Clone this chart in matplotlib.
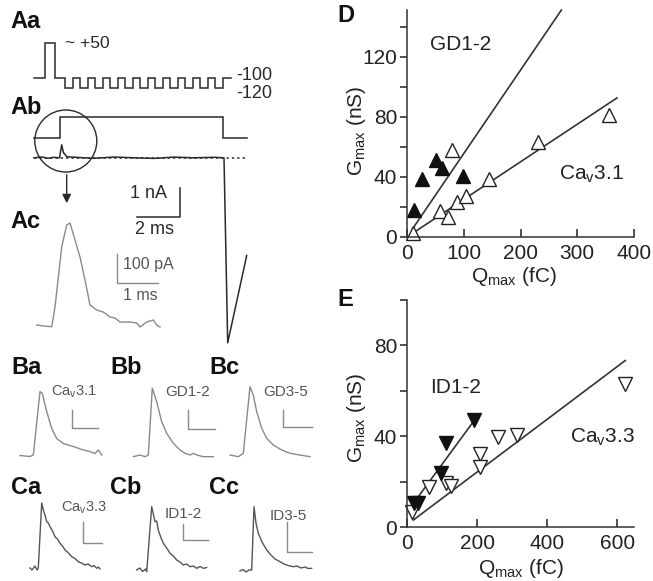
import numpy as np
import matplotlib
matplotlib.use("Agg")
import matplotlib.pyplot as plt
from matplotlib.patches import Circle

plt.rcParams['font.family'] = ['Liberation Sans', 'DejaVu Sans']
plt.rcParams['mathtext.fontset'] = 'custom'
plt.rcParams['mathtext.rm'] = 'Liberation Sans'
plt.rcParams['mathtext.it'] = 'Liberation Sans:italic'

# ---------------- datos panel D (Cav3.1 y GD1-2)
d_q_wt = [10, 58, 73, 79, 88, 104, 145, 231, 356]
d_g_wt = [2.5, 17.5, 13.5, 58, 23, 27, 38.5, 63.5, 81]
d_q_gd = [12, 27, 51, 62, 98]
d_g_gd = [18, 38.5, 51, 46, 40.7]
# ajuste: pendiente, ordenada, x inicial, x final
d_fit_wt = [0.25, 0.0, 10, 370]
d_fit_gd = [0.555, 0.0, 10, 272]

# ---------------- datos panel E (Cav3.3 y ID1-2)
e_q_wt = [13, 63, 112, 125, 209, 209, 261, 313, 623]
e_g_wt = [6.8, 17.8, 19.5, 18, 32.4, 26.6, 39.7, 40.5, 63]
e_q_id = [20, 30, 97, 111, 191]
e_g_id = [10.5, 10.5, 24, 37, 47]
e_fit_wt = [0.116, 1.1, 18, 623]
e_fit_id = [0.21, 6.7, 18, 199]

# ---------------- trazos (unidades de pantalla, relativas al origen de cada trazo)
# protocolo de voltaje Aa (mV) y duraciones de cada segmento
aa_levels = [-100, 50, -100] + [-120, -100] * 10 + [-120, -100]
aa_durs = [11, 10, 10] + [8.3, 6.7] * 10 + [8.3, 7.5]
# comando Ab (0 = reposo, 1 = escalon)
ab_levels = [0, 1, 0]
ab_durs = [26, 163.3, 23.4]
# corriente Ab
ab_t = [0, 8, 14, 20, 25.5, 27.7, 29.5, 33, 45, 60, 80, 100, 120, 140, 160, 180, 190, 193.7, 212.7]
ab_i = [0, 0.8, -0.5, 0.5, 0, 13, 5, 1, 0.3, -0.5, 0.8, 0, -0.6, 0.7, 0, 0.5, 0, -185, -97.7]
# Ac ampliado
ac_t = [0, 6.6, 15, 18.3, 25, 30, 33.3, 38.3, 43.3, 48.3, 53.3, 60, 66.6, 73.3, 78.3,
        83.3, 93.3, 100, 103.3, 110, 116.6, 120, 123.3]
ac_i = [1, 0, -0.7, 19, 79, 101, 103, 86, 69, 46, 21, 16, 14, 9, 8, 4, 4, 3, -1, 4, 6, 1, -1]
# fila B
ba_t = [0, 10, 13.3, 20, 22.3, 26.7, 31.7, 36.7, 43.3, 53.3, 63.3, 70, 75, 78.3, 81.7]
ba_i = [0, -1, 0.5, 64, 62, 44, 27, 17, 12, 9, 5.5, 4, 2, 5.5, 0.5]
bb_t = [0, 6.7, 11.7, 15, 19, 23.4, 28.4, 33.4, 40, 46.7, 51.7, 56.7, 60, 63.4, 70, 80]
bb_i = [-0.7, 1, -0.7, 1, 67.7, 54.3, 34.3, 22.7, 12.7, 6, 2.7, 1, 2.7, 1, -0.7, -0.7]
bc_t = [0, 8.3, 13.3, 20, 23.3, 26.7, 31.7, 36.7, 43.3, 51.7, 60, 70, 80]
bc_i = [1, -0.7, 2.7, 69.3, 61, 44.3, 27.7, 17.7, 11, 6, 2.7, 1, -0.7]
# fila C (mas ruidosa)
ca_t = [0, 2, 5, 7, 8.3, 11.7, 13.3, 15, 16.7, 18.3, 20, 22.5, 25, 27.5, 30, 32.5, 35, 38,
        41.7, 45, 48.3, 51.5, 55, 58, 61.7, 64, 66.7, 68.5, 70]
ca_i = [0, -2, 2, -2, 0, 65, 58, 53, 46.3, 45, 41.3, 37, 31.3, 29, 24.7, 22, 18, 15.5,
        11.3, 9.5, 6.3, 5, 3, 4, 1.3, 2.5, -0.3, 1, -1]
cb_t = [0, 3, 6, 9, 10, 15, 16.6, 18.3, 20, 21.6, 24, 26.6, 30, 33.3, 36.6, 40, 43.3, 46.6,
        50, 53.3, 56.6, 60, 63.3, 66.6, 70]
cb_i = [0, 2, -1.5, 1, -1.7, 63.3, 56, 48.3, 49, 40, 33, 26.7, 22, 16.7, 14, 10, 8, 5,
        6, 3.3, 4, 1.7, 3.5, 1.7, 2.5]
cc_t = [0, 3, 6, 9, 11.7, 14, 16, 18.3, 22, 26.7, 30, 35, 40, 44, 48, 53.3, 57, 61, 65, 68, 71.7]
cc_i = [0, 1.5, -1, 1, 1, 64.3, 48, 37.7, 29, 21, 17, 12, 9.3, 7, 5.5, 4.3, 5, 3, 4, 2.5, 2.7]


fig = plt.figure(figsize=(6.53, 5.81), dpi=100)

# ---------------- parte izquierda en coordenadas de pixel
ax0 = fig.add_axes([0, 0, 1, 1])
ax0.set_xlim(0, 653)
ax0.set_ylim(581, 0)
ax0.axis('off')

negro = '#2a2a2a'
gris = '#8a8a8a'
gris_osc = '#555555'


def escalones(x0, y0, niveles, duraciones, escala, color):
    xs, ys = [], []
    x = x0
    for n, d in zip(niveles, duraciones):
        y = y0 - escala(n)
        xs += [x, x + d]
        ys += [y, y]
        x += d
    ax0.plot(xs, ys, color=color, lw=1.1, solid_joinstyle='miter')


def trazo(x0, y0, t, i, color, lw=1.0):
    ax0.plot(x0 + np.array(t), y0 - np.array(i), color=color, lw=lw)


def barra(xv, ytop, ybot, xh, color, lw=1.0):
    ax0.plot([xv, xv, xh], [ytop, ybot, ybot], color=color, lw=lw)


# Aa
escalones(34, 78.3, aa_levels, aa_durs,
          lambda v: np.interp(v, [-120, -100, 50], [-10, 0, 35]), negro)
ax0.text(65, 43, '~ +50', fontsize=12.5, va='center', color=negro)
ax0.text(236, 75, '-100', fontsize=13, va='center', color=negro)
ax0.text(236, 93, '-120', fontsize=13, va='center', color=negro)

# Ab
escalones(34, 138.3, ab_levels, ab_durs, lambda v: 21 * v, negro)
ax0.plot([34, 246.7], [158.3, 158.3], color=negro, lw=1.1, ls=(0, (1.5, 2)))
trazo(34, 157.8, ab_t, ab_i, negro, lw=1.1)
ax0.add_patch(Circle((65.8, 141), 31, fill=False, ec=negro, lw=1.0))
ax0.annotate('', xy=(66.7, 206), xytext=(66.7, 172),
             arrowprops=dict(arrowstyle='-|>', color=negro, lw=1.0, mutation_scale=13))
barra(180, 188, 216.7, 137, negro, lw=1.1)
ax0.text(130, 193, '1 nA', fontsize=13, va='center', color=negro)
ax0.text(135, 229, '2 ms', fontsize=13, va='center', color=negro)

# Ac
trazo(36.7, 326, ac_t, ac_i, gris, lw=1.0)
barra(116.7, 254, 283.3, 158, gris, lw=1.0)
ax0.text(123, 265, '100 pA', fontsize=11.5, va='center', color=gris_osc)
ax0.text(123, 295, '1 ms', fontsize=11.5, va='center', color=gris_osc)

# fila B
trazo(20, 455.5, ba_t, ba_i, gris)
trazo(133.3, 456, bb_t, bb_i, gris)
trazo(230, 456, bc_t, bc_i, gris)
barra(71.7, 410, 428, 98.3, gris)
barra(188.3, 410, 429, 215, gris)
barra(283.3, 410, 427, 311.7, gris)
ax0.text(51, 392, r'Ca$_{\rm v}$3.1', fontsize=10.5, va='center', color=gris_osc)
ax0.text(165, 392, 'GD1-2', fontsize=11, va='center', color=gris_osc)
ax0.text(263, 392, 'GD3-5', fontsize=11, va='center', color=gris_osc)

# fila C
trazo(30, 568, ca_t, ca_i, gris_osc)
trazo(136.7, 570, cb_t, cb_i, gris_osc)
trazo(240, 571, cc_t, cc_i, gris_osc)
barra(83.3, 522, 543.3, 101.7, gris)
barra(183.3, 524, 540, 208.3, gris)
barra(287, 521.7, 551.7, 312, gris)
ax0.text(61, 508, r'Ca$_{\rm v}$3.3', fontsize=10.5, va='center', color=gris_osc)
ax0.text(165, 514, 'ID1-2', fontsize=11, va='center', color=gris_osc)
ax0.text(270, 516, 'ID3-5', fontsize=11, va='center', color=gris_osc)

# etiquetas de panel
for txt, x, y in [('Aa', 10, 21), ('Ab', 10, 108), ('Ac', 10, 222),
                  ('Ba', 11, 367), ('Bb', 110, 367), ('Bc', 209, 367),
                  ('Ca', 11, 487), ('Cb', 110, 487), ('Cc', 209, 487),
                  ('D', 337, 16), ('E', 337, 299)]:
    ax0.text(x, y, txt, fontsize=17, fontweight='bold', va='center', ha='left', color='#111111')


# ---------------- graficos de dispersion
def estilo(ax):
    for s in ['top', 'right']:
        ax.spines[s].set_visible(False)
    for s in ['left', 'bottom']:
        ax.spines[s].set_color('#333333')
        ax.spines[s].set_linewidth(1.1)
    ax.tick_params(axis='x', direction='in', length=6, width=1.1, labelsize=15, pad=5, colors='#222222')
    ax.tick_params(axis='y', which='both', direction='out', length=5, width=1.1, labelsize=15,
                   pad=2, colors='#222222')
    ax.set_facecolor('none')


def ajuste(ax, f):
    x = np.array([f[2], f[3]])
    ax.plot(x, f[0] * x + f[1], color='#333333', lw=1.2, clip_on=False)


axD = fig.add_axes([407 / 653, 1 - 237 / 581, 227 / 653, 227 / 581])
estilo(axD)
ajuste(axD, d_fit_wt)
ajuste(axD, d_fit_gd)
axD.plot(d_q_wt, d_g_wt, ls='none', marker='^', ms=9.5, mfc='white', mec='#222222', mew=1.0, clip_on=False)
axD.plot(d_q_gd, d_g_gd, ls='none', marker='^', ms=9.5, mfc='#111111', mec='#111111', clip_on=False)
axD.set_xlim(0, 400)
axD.set_ylim(0, 151)
axD.set_xticks([0, 100, 200, 300, 400])
axD.set_yticks([0, 40, 80, 120])
axD.set_yticks([20, 60, 100, 140], minor=True)
axD.text(40, 128, 'GD1-2', fontsize=15, va='center', color='#222222')
axD.text(268, 42, r'Ca$_{\rm v}$3.1', fontsize=15, va='center', color='#222222')
axD.set_xlabel(r'Q$_{\rm max}$ (fC)', fontsize=15, color='#222222')
axD.set_ylabel(r'G$_{\rm max}$ (nS)', fontsize=15, color='#222222')
axD.xaxis.set_label_coords(0.47, -0.125)
axD.yaxis.set_label_coords(-0.17, 0.47)

axE = fig.add_axes([407 / 653, 1 - 527.3 / 581, 227 / 653, 227.3 / 581])
estilo(axE)
ajuste(axE, e_fit_wt)
ajuste(axE, e_fit_id)
axE.plot(e_q_wt, e_g_wt, ls='none', marker='v', ms=9.5, mfc='white', mec='#222222', mew=1.0, clip_on=False)
axE.plot(e_q_id, e_g_id, ls='none', marker='v', ms=9.5, mfc='#111111', mec='#111111', clip_on=False)
axE.set_xlim(0, 648)
axE.set_ylim(0, 100)
axE.set_xticks([0, 200, 400, 600])
axE.set_yticks([0, 40, 80])
axE.set_yticks([20, 60, 100], minor=True)
axE.text(65, 61.6, 'ID1-2', fontsize=15, va='center', color='#222222')
axE.text(466, 39.7, r'Ca$_{\rm v}$3.3', fontsize=15, va='center', color='#222222')
axE.set_xlabel(r'Q$_{\rm max}$ (fC)', fontsize=15, color='#222222')
axE.set_ylabel(r'G$_{\rm max}$ (nS)', fontsize=15, color='#222222')
axE.xaxis.set_label_coords(0.5, -0.13)
axE.yaxis.set_label_coords(-0.17, 0.48)

fig.savefig('out.png', dpi=100)
